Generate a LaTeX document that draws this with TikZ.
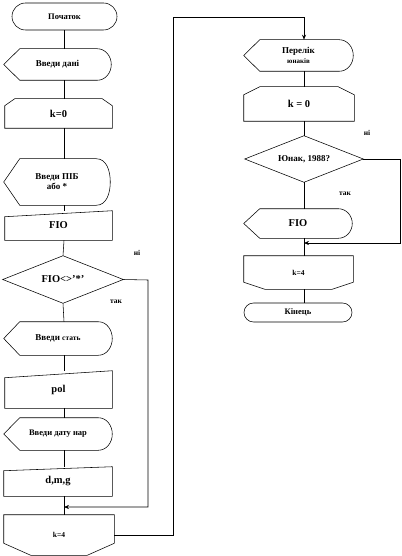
\documentclass[tikz,border=0pt]{standalone}
\usepackage{fontspec}
\setmainfont{Liberation Serif}
\usetikzlibrary{calc,shapes.misc,arrows.meta}
\newcommand\dispshape[1]{\draw (#1.west) -- ($(#1.north west)+(16,0)$) -- ($(#1.north east)+(-14,0)$) to[out=0,in=90] (#1.east) to[out=-90,in=0] ($(#1.south east)+(-14,0)$) -- ($(#1.south west)+(16,0)$) -- cycle;}
\newcommand\manshape[2]{\draw ($(#1.north west)+(0,-#2)$) -- (#1.north east) -- (#1.south east) -- (#1.south west) -- cycle;}
\newcommand\lstartshape[3]{\draw (#1.south west) -- ($(#1.north west)+(0,-#3)$) -- ($(#1.north west)+(#2,0)$) -- ($(#1.north east)+(-#2,0)$) -- ($(#1.north east)+(0,-#3)$) -- (#1.south east) -- cycle;}
\newcommand\lendshape[3]{\draw (#1.north west) -- ($(#1.south west)+(0,#3)$) -- ($(#1.south west)+(#2,0)$) -- ($(#1.south east)+(-#2,0)$) -- ($(#1.south east)+(0,#3)$) -- (#1.north east) -- cycle;}
\newcommand\decshape[1]{\draw (#1.west) -- (#1.north) -- (#1.east) -- (#1.south) -- cycle;}
\begin{document}
\begin{tikzpicture}[x=1pt,y=1pt,line width=0.55pt,
  blk/.style={rectangle,inner sep=0pt,align=center,font=\bfseries\fontsize{9}{10}\selectfont},
  bigt/.style={font=\bfseries\fontsize{10.5}{12}\selectfont},
  smallt/.style={font=\bfseries\fontsize{7.5}{8}\selectfont},
  term/.style={rounded rectangle,draw,inner sep=0pt,align=center,font=\bfseries\fontsize{8.5}{9}\selectfont},
  arr/.style={-{Stealth[length=5pt,width=4pt]}},
  lbl/.style={inner sep=0pt,font=\bfseries\fontsize{7.5}{8}\selectfont}]
\useasboundingbox (0,0) rectangle (401,-556);
\coordinate (L) at (64,0);
\coordinate (R) at (304,0);
% left column
\node[term,minimum width=105,minimum height=27] (start) at (64.5,-16.5) {Початок};
\node[blk,minimum width=107,minimum height=31] (in1) at (57.5,-64.5) {Введи дані};
\dispshape{in1}
\node[blk,bigt,minimum width=107,minimum height=29] (lp1) at (58.5,-113.5) {k=0};
\lstartshape{lp1}{10}{7}
\node[blk,minimum width=106,minimum height=46] (in2) at (57,-182) {Введи ПІБ\\або *};
\dispshape{in2}
\node[blk,bigt,minimum width=107,minimum height=29] (fio) at (58.5,-225.5) {FIO};
\manshape{fio}{6}
\node[blk,font=\bfseries\fontsize{10.5}{11}\selectfont,minimum width=120,minimum height=47] (dec1) at (63,-279.5) {FIO<>'*'};
\decshape{dec1}
\node[blk,minimum width=108,minimum height=33] (in3) at (58,-338.5) {Введи {\fontsize{7.5}{8}\selectfont стать}};
\dispshape{in3}
\node[blk,bigt,minimum width=107,minimum height=37] (pol) at (58.5,-389.5) {pol};
\manshape{pol}{7}
\node[blk,font=\bfseries\fontsize{8.5}{9}\selectfont,minimum width=108,minimum height=32] (in4) at (58,-434) {Введи дату нар};
\dispshape{in4}
\node[blk,bigt,minimum width=108,minimum height=29] (dmg) at (58,-481.5) {d,m,g};
\manshape{dmg}{4}
\node[blk,smallt,minimum width=110,minimum height=40] (le1) at (59,-535) {k=4};
\lendshape{le1}{27}{12}
\coordinate (m1) at (64,-507);
\coordinate (r1) at (148,-280);
% right column
\node[blk,font=\bfseries\fontsize{9}{10}\selectfont,minimum width=109,minimum height=31] (t2) at (298.5,-55.5) {Перелік\\{\fontsize{7}{8}\selectfont юнаків}};
\dispshape{t2}
\node[blk,bigt,minimum width=110,minimum height=34] (lp2) at (299,-104) {k = 0};
\lstartshape{lp2}{16}{8}
\node[blk,font=\bfseries\fontsize{9}{10}\selectfont,minimum width=118,minimum height=46] (dec2) at (304,-159) {Юнак, 1988?};
\decshape{dec2}
\node[blk,bigt,minimum width=108,minimum height=29] (out) at (298,-223.5) {FIO};
\dispshape{out}
\node[blk,smallt,minimum width=109,minimum height=33] (le2) at (298.5,-272.5) {k=4};
\lendshape{le2}{21}{7}
\node[term,minimum width=108,minimum height=19] (fin) at (298,-312.5) {Кінець};
\coordinate (m2) at (304,-243);
\coordinate (r2) at (400,-159);
\coordinate (up1) at (173,-17);
% connectors left
\draw (start.south -| L) -- (in1.north -| L);
\draw (in1.south -| L) -- (lp1.north -| L);
\draw (lp1.south -| L) -- (in2.north -| L);
\draw (in2.south -| L) -- (fio.north -| L);
\draw (fio.south -| L) -- (dec1.north);
\draw (dec1.south) -- (in3.north -| L);
\draw (in3.south -| L) -- (pol.north -| L);
\draw (pol.south -| L) -- (in4.north -| L);
\draw (in4.south -| L) -- (dmg.north -| L);
\draw (dmg.south -| L) -- (le1.north -| L);
\draw[arr] (dec1.east) -- (r1) |- (m1);
\draw[arr] (le1.east) -| (up1) -| (t2.north -| R);
% connectors right
\draw (t2.south -| R) -- (lp2.north -| R);
\draw (lp2.south -| R) -- (dec2.north);
\draw (dec2.south) -- (out.north -| R);
\draw (out.south -| R) -- (le2.north -| R);
\draw (le2.south -| R) -- (fin.north -| R);
\draw[arr] (dec2.east) -- (r2) |- (m2);
% labels
\node[lbl] (n1) at (137,-253) {ні};
\node[lbl] (y1) at (116,-302) {так};
\node[lbl] (n2) at (367,-133) {ні};
\node[lbl] (y2) at (345,-194) {так};
\end{tikzpicture}
\end{document}
